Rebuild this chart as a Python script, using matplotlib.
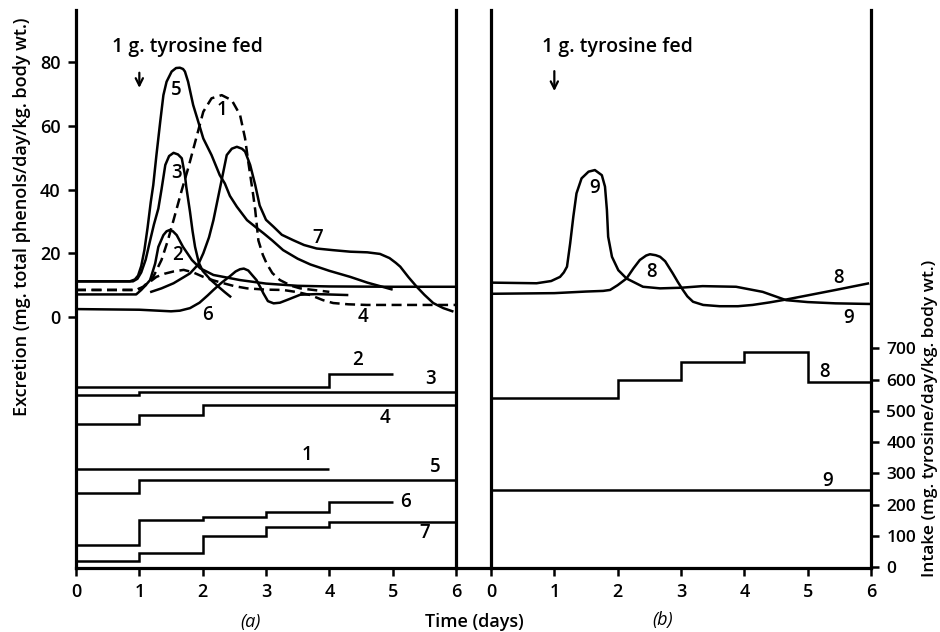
import matplotlib
matplotlib.use("Agg")
import matplotlib.pyplot as plt
from matplotlib.lines import Line2D

plt.rcParams['font.family'] = ['Open Sans', 'DejaVu Sans']

# ---------------- Excretion curves, panel (a) (days, mg phenols/day/kg) ----------
c1_x = [0, 0.95, 1.06, 1.14, 1.22, 1.35, 1.45, 1.54, 1.67, 1.77, 1.91, 2.01, 2.14, 2.3,
        2.46, 2.59, 2.67, 2.72, 2.77, 2.8, 2.83, 2.88, 2.95, 3.01, 3.1, 3.22, 3.4, 3.54, 4.0]
c1_y = [8.5, 8.5, 9.5, 11, 12.6, 17.9, 24, 30.4, 39.8, 46.6, 57, 64.4, 68.6, 69.6,
        68, 63.4, 56, 48.7, 42, 38, 33.5, 24, 19.5, 16.8, 13.8, 11.6, 9.8, 9, 7.9]

c2_x = [0, 0.95, 1.03, 1.1, 1.17, 1.25, 1.3, 1.38, 1.43, 1.48, 1.53, 1.59, 1.69, 1.83,
        1.96, 2.17, 2.59, 3.0, 3.5, 4.0, 5.0, 6.0]
c2_y = [7.1, 7.1, 8.5, 10, 11.6, 16.8, 22, 25.7, 26.9, 27.3, 26.9, 25.7, 22, 17.9,
        15.3, 13.2, 11.6, 10.5, 9.8, 9.6, 9.5, 9.5]

c3_x = [0, 0.9, 0.97, 1.03, 1.1, 1.17, 1.23, 1.3, 1.35, 1.41, 1.47, 1.54, 1.61, 1.67,
        1.72, 1.74, 1.77, 1.8, 1.84, 1.88, 1.94, 2.0, 2.12, 2.25, 2.35, 2.45]
c3_y = [11.2, 11.2, 12, 14, 18, 24, 29, 34, 40, 47.7, 50.5, 51.5, 51, 49.8,
        44.5, 41, 37, 33, 27, 22, 17, 14.5, 11.8, 9.5, 7.8, 6.2]

c4_x = [0, 0.95, 1.05, 1.15, 1.27, 1.4, 1.54, 1.7, 1.85, 2.01, 2.17, 2.33, 2.5, 2.7,
        3.0, 3.27, 3.5, 3.7, 3.9, 4.06, 4.3, 4.59, 6.0]
c4_y = [8.5, 8.5, 9.2, 10.8, 12.6, 13.6, 14.3, 14.8, 14.0, 12.6, 11.5, 10.6, 9.7, 9.0,
        8.6, 8.5, 7.8, 6.9, 5.3, 4.4, 4.0, 3.8, 3.8]

c5_x = [0, 0.85, 0.93, 0.98, 1.03, 1.08, 1.13, 1.18, 1.22, 1.27, 1.33, 1.38, 1.43, 1.51,
        1.58, 1.64, 1.69, 1.72, 1.77, 1.85, 1.93, 2.01, 2.14, 2.27, 2.35, 2.43, 2.54, 2.7,
        2.85, 2.96, 3.1, 3.27, 3.5, 3.7, 4.0, 4.33, 4.6, 5.0]
c5_y = [11.2, 11.2, 11.8, 13, 16, 21, 28, 36, 41.4, 50.8, 61.3, 69.6, 73.8, 77,
        78.1, 78.2, 77.8, 77, 73.8, 66.5, 61.3, 56, 50.8, 44.5, 41.9, 38, 34.6, 30.4,
        28, 26.3, 24, 21, 18.3, 16.5, 14.5, 12.6, 10.8, 8.6]

c6_x = [0, 1.0, 1.5, 1.64, 1.8, 1.95, 2.08, 2.17, 2.3, 2.43, 2.52, 2.59, 2.65, 2.72,
        2.78, 2.85, 2.92, 2.96, 3.03, 3.12, 3.22, 3.35, 3.54, 3.8, 4.3]
c6_y = [2.5, 2.3, 1.8, 2, 2.8, 4.5, 6.8, 8.5, 10.8, 12.8, 14.3, 15, 15.2, 14.6,
        13.2, 11.6, 9, 7.4, 5, 4.3, 4.5, 5.5, 7.0, 7.2, 6.9]

c7_x = [1.17, 1.35, 1.54, 1.7, 1.8, 1.93, 2.01, 2.1, 2.17, 2.3, 2.38, 2.46, 2.54, 2.62,
        2.67, 2.75, 2.83, 2.9, 3.0, 3.12, 3.25, 3.43, 3.6, 3.8, 4.05, 4.33, 4.6, 4.8,
        4.95, 5.05, 5.12, 5.25, 5.38, 5.5, 5.64, 5.8, 5.96]
c7_y = [7.8, 9.0, 10.6, 12.5, 13.7, 16.5, 20, 25, 30.4, 43, 50.8, 52.8, 53.4, 52.8,
        51.9, 47.7, 41.4, 35, 30.5, 28.3, 25.8, 24.1, 22.6, 21.5, 21, 20.5, 20.3, 19.8,
        18.5, 17, 15.8, 12.5, 9.5, 7, 4.4, 2.8, 1.7]

# ---------------- Excretion curves, panel (b) ----------------
c8_x = [0, 1.0, 1.5, 1.77, 1.88, 2.0, 2.14, 2.25, 2.35, 2.45, 2.51, 2.6, 2.67, 2.75,
        2.87, 2.95, 3.03, 3.1, 3.19, 3.35, 3.61, 3.9, 4.13, 4.4, 4.66, 5.0, 5.44, 5.97]
c8_y = [7.3, 7.5, 8.0, 8.2, 8.5, 10, 12.1, 15.3, 17.9, 19.3, 19.7, 19.4, 18.9, 17.5,
        13.7, 11, 8.5, 6.5, 4.8, 3.8, 3.4, 3.4, 3.8, 4.6, 5.5, 6.8, 8.5, 10.6]

c9_x = [0, 0.72, 0.95, 1.09, 1.15, 1.2, 1.25, 1.3, 1.35, 1.43, 1.54, 1.64, 1.75, 1.8,
        1.83, 1.85, 1.91, 2.01, 2.14, 2.4, 2.67, 3.0, 3.34, 3.87, 4.29, 4.66, 5.0, 5.44, 6.0]
c9_y = [10.8, 10.6, 11.3, 12.6, 14, 15.8, 23.1, 31.5, 38.8, 43.5, 45.6, 46.1, 44.5, 40.9,
        33.6, 25.2, 18.9, 14.7, 12.1, 9.5, 9.0, 9.2, 9.7, 9.5, 7.9, 5.3, 4.7, 4.3, 4.1]

# ---------------- Intake steps (mg tyrosine/day/kg) ----------------
s1_edges, s1_vals = [0, 4], [313]
s2_edges, s2_vals = [0, 4, 5], [576, 617]
s3_edges, s3_vals = [0, 1, 6], [549, 561]
s4_edges, s4_vals = [0, 1, 2, 6], [459, 488, 518]
s5_edges, s5_vals = [0, 1, 6], [237, 278]
s6_edges, s6_vals = [0, 1, 2, 3, 4, 5], [72, 149, 161, 177, 208]
s7_edges, s7_vals = [0, 1, 2, 3, 4, 6], [20, 46, 99, 127, 144]
s8_edges, s8_vals = [0, 2, 3, 4, 5, 6], [542, 598, 655, 689, 591]
s9_edges, s9_vals = [0, 6], [245]

day_ticks = [0, 1, 2, 3, 4, 5, 6]
exc_ticks = [0, 20, 40, 60, 80]
int_ticks = [0, 100, 200, 300, 400, 500, 600, 700]

# ---------------- Layout ----------------
W, H = 940, 632
fig = plt.figure(figsize=(W / 100, H / 100), dpi=100)
TOP, BOT = 10, 568

def rect(l, r):
    return [l / W, 1 - BOT / H, (r - l) / W, (BOT - TOP) / H]

axa = fig.add_axes(rect(76, 456))
axb = fig.add_axes(rect(491, 871))
ta = axa.twinx()
tb = axb.twinx()

LW = 1.8
SPW = 2.3
FW = 'semibold'
TFS = 13      # tick labels
LFS = 13      # axis labels
NFS = 13.5    # curve numbers
AFS = 14      # annotation
dash = (0, (4, 2.2))

for ax in (axa, axb):
    ax.set_xlim(0, 6)
    ax.set_ylim(-78.7, 96.3)
    ax.spines['top'].set_visible(False)
    for s in ('left', 'right', 'bottom'):
        ax.spines[s].set_linewidth(SPW)
    ax.set_xticks(day_ticks)
    ax.tick_params(axis='x', direction='out', length=6, width=1.8, labelsize=TFS, pad=5)
for t in (ta, tb):
    t.set_ylim(-3.2, 1783)
    for s in t.spines.values():
        s.set_visible(False)

axa.set_yticks(exc_ticks)
axa.tick_params(axis='y', direction='out', length=6, width=1.8, labelsize=TFS, pad=5)
axb.set_yticks([])
ta.set_yticks([])
tb.set_yticks(int_ticks)
tb.tick_params(axis='y', direction='out', length=6, width=1.8, labelsize=12.5, pad=5)
for ax in (axa, axb, tb):
    for lab in ax.get_xticklabels() + ax.get_yticklabels():
        lab.set_fontweight(FW)

k = dict(color='black', lw=LW, solid_capstyle='butt', solid_joinstyle='round')
axa.plot(c1_x, c1_y, linestyle=dash, **k)
axa.plot(c2_x, c2_y, **k)
axa.plot(c3_x, c3_y, **k)
axa.plot(c4_x, c4_y, linestyle=dash, **k)
axa.plot(c5_x, c5_y, **k)
axa.plot(c6_x, c6_y, **k)
axa.plot(c7_x, c7_y, **k)
axb.plot(c8_x, c8_y, **k)
axb.plot(c9_x, c9_y, **k)

for e, v in ((s1_edges, s1_vals), (s2_edges, s2_vals), (s3_edges, s3_vals),
             (s4_edges, s4_vals), (s5_edges, s5_vals), (s6_edges, s6_vals),
             (s7_edges, s7_vals)):
    ta.stairs(v, e, baseline=None, color='black', lw=LW)
for e, v in ((s8_edges, s8_vals), (s9_edges, s9_vals)):
    tb.stairs(v, e, baseline=None, color='black', lw=LW)

tk = dict(fontsize=NFS, ha='center', va='center', fontweight=FW)
# curve labels panel (a)
axa.text(1.59, 71.2, '5', **tk)
axa.text(2.31, 64.9, '1', **tk)
axa.text(1.59, 45.2, '3', **tk)
axa.text(1.61, 19.5, '2', **tk)
axa.text(2.08, 0.6, '6', **tk)
axa.text(3.82, 24.8, '7', **tk)
axa.text(4.53, 0.0, '4', **tk)
ta.text(4.45, 663, '2', **tk)
ta.text(5.59, 602, '3', **tk)
ta.text(4.88, 477, '4', **tk)
ta.text(3.65, 358, '1', **tk)
ta.text(5.67, 320, '5', **tk)
ta.text(5.21, 208, '6', **tk)
ta.text(5.51, 109, '7', **tk)
# panel (b)
axb.text(1.63, 40.5, '9', **tk)
axb.text(2.53, 14.1, '8', **tk)
axb.text(5.48, 12.2, '8', **tk)
axb.text(5.64, -0.3, '9', **tk)
tb.text(5.27, 624, '8', **tk)
tb.text(5.31, 275, '9', **tk)

# feeding annotations
axa.text(0.57, 84.7, '1 g. tyrosine fed', fontsize=AFS, ha='left', va='center', fontweight=FW)
axa.annotate('', xy=(1.0, 71.0), xytext=(1.0, 77.5),
             arrowprops=dict(arrowstyle='->', lw=1.6, color='black', mutation_scale=13))
axb.text(0.805, 84.7, '1 g. tyrosine fed', fontsize=AFS, ha='left', va='center', fontweight=FW)
axb.annotate('', xy=(1.0, 70.0), xytext=(1.0, 78.0),
             arrowprops=dict(arrowstyle='->', lw=1.6, color='black', mutation_scale=13))

# connect bottom lines between panels
fig.add_artist(Line2D([456 / W, 491 / W], [1 - BOT / H, 1 - BOT / H],
                      transform=fig.transFigure, color='black', lw=SPW))

fig.text(474 / W, 1 - 622 / H, 'Time (days)', fontsize=LFS, ha='center', va='center', fontweight=FW)
fig.text(250 / W, 1 - 622 / H, '(a)', fontsize=LFS, ha='center', va='center', style='italic')
fig.text(663 / W, 1 - 620 / H, '(b)', fontsize=LFS, ha='center', va='center', style='italic')
fig.text(22 / W, 1 - 217 / H, 'Excretion (mg. total phenols/day/kg. body wt.)',
         fontsize=LFS, rotation=90, ha='center', va='center', fontweight=FW)
fig.text(930 / W, 1 - 418 / H, 'Intake (mg. tyrosine/day/kg. body wt.)',
         fontsize=12.5, rotation=90, ha='center', va='center', fontweight=FW)

fig.savefig('out.png', dpi=100)
